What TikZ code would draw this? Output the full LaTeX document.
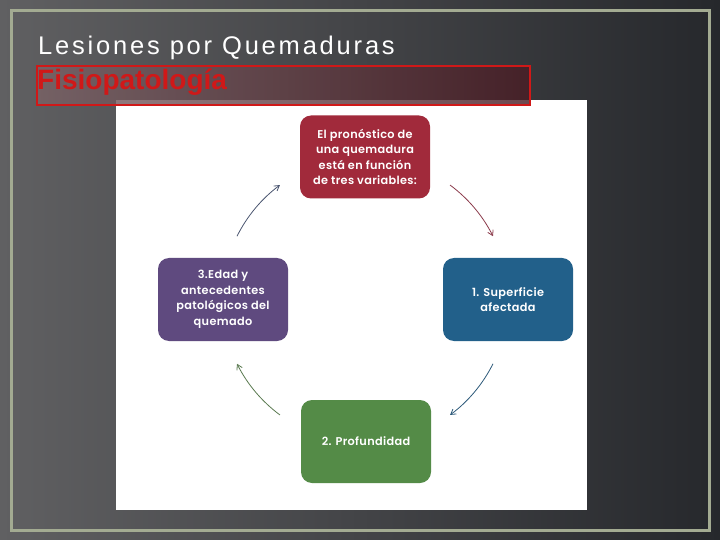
\documentclass[tikz,border=0pt]{standalone}
\usepackage{fontspec}
\setmainfont{Liberation Sans}
\newfontfamily\boxfont{Poppins}[UprightFont=* SemiBold, LetterSpace=3]
\newfontfamily\titlefont{Liberation Sans}[LetterSpace=11]
\usetikzlibrary{arrows.meta,shadings}
\definecolor{cTop}{HTML}{A12A3B}
\definecolor{cPur}{HTML}{5F4A7F}
\definecolor{cBlu}{HTML}{22608A}
\definecolor{cGrn}{HTML}{548B47}
\definecolor{aTop}{HTML}{8B3A4A}
\definecolor{aBlu}{HTML}{2E5A7A}
\definecolor{aGrn}{HTML}{5A7A50}
\definecolor{aPur}{HTML}{4A5570}
\definecolor{frameC}{HTML}{A3AB92}
\definecolor{bgL}{HTML}{606062}
\definecolor{bgR}{HTML}{26282C}
\definecolor{redT}{HTML}{D01818}
\definecolor{boxL}{HTML}{7A6266}
\definecolor{boxR}{HTML}{4A1C24}
\tikzset{
  stepbox/.style={rectangle, rounded corners=11bp, minimum width=130bp, minimum height=83bp,
    text=white, align=center, font=\boxfont\fontsize{11.3bp}{15.5bp}\selectfont, inner sep=2bp},
  cyc/.style={line width=0.8pt, -{Straight Barb[length=5pt,width=6pt]}}
}
\begin{document}
\begin{tikzpicture}[x=1bp,y=-1bp]
\useasboundingbox (0,0) rectangle (720,540);
\shade[left color=bgL, right color=bgR] (0,0) rectangle (720,540);
\draw[frameC, line width=3bp] (11,11) rectangle (709,530);
% white image
\fill[white] (116,100) rectangle (587,510);
% titles
\node[anchor=base west, inner sep=0, text=white, font=\titlefont\fontsize{25.5bp}{27bp}\selectfont] (t1) at (38,55) {Lesiones por Quemaduras};
\shade[left color=boxL, right color=boxR, opacity=0.8] (37,66) rectangle (530,105);
\draw[redT, line width=1.2bp] (37,66) rectangle (530,105);
\node[anchor=base west, inner sep=0, text=redT, font=\bfseries\fontsize{28bp}{29bp}\selectfont] (t2) at (37,90) {Fisiopatología};
% boxes
\node[stepbox, fill=cTop] (top) at (365,157) {El pronóstico de\\una quemadura\\está en función\\de tres variables:};
\node[stepbox, fill=cBlu] (rgt) at (508,299.5) {1. Superficie\\afectada};
\node[stepbox, fill=cGrn] (bot) at (366,441.5) {2. Profundidad};
\node[stepbox, fill=cPur] (lft) at (223,299.5) {3.Edad y\\antecedentes\\patológicos del\\quemado};
% arrows (arc around center 365,300 r=143; y axis points down)
\coordinate (c) at (365,300);
\draw[cyc, aTop] ([shift={(-53.5:143)}]c) arc[start angle=-53.5, end angle=-26.5, radius=143];
\draw[cyc, aBlu] ([shift={(26.5:143)}]c) arc[start angle=26.5, end angle=53.5, radius=143];
\draw[cyc, aGrn] ([shift={(126.5:143)}]c) arc[start angle=126.5, end angle=153.5, radius=143];
\draw[cyc, aPur] ([shift={(-153.5:143)}]c) arc[start angle=-153.5, end angle=-126.5, radius=143];
\end{tikzpicture}
\end{document}
